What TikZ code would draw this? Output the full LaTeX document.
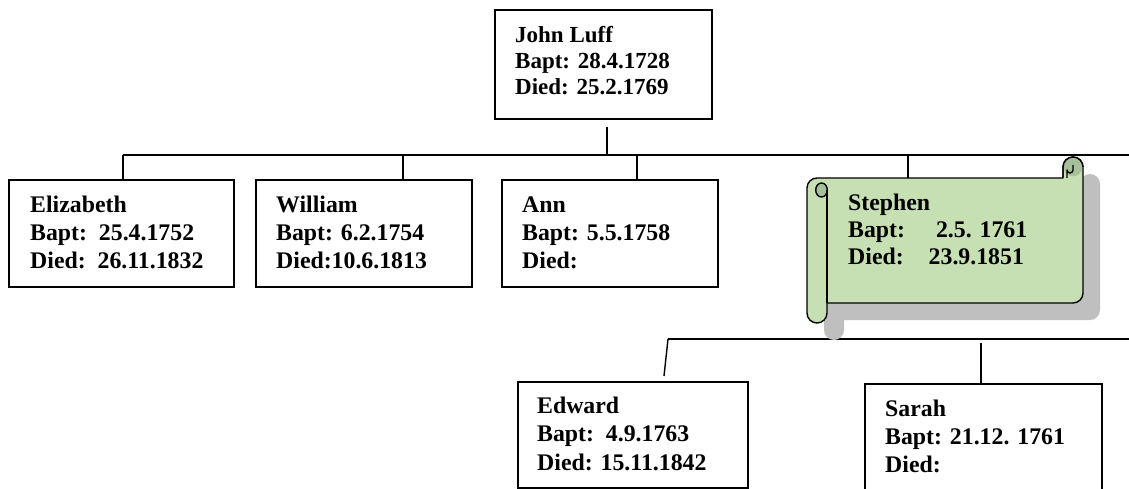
\documentclass[tikz,border=0pt]{standalone}
\usepackage{fontspec}
\setmainfont{Liberation Serif}
\usetikzlibrary{calc}
\definecolor{scrollfill}{RGB}{198,224,180}
\definecolor{scrolldark}{RGB}{166,192,154}
\definecolor{shadowgray}{RGB}{191,191,191}
\newcommand\threelines[3]{\begin{tabular}[t]{@{}l@{}}#1\\#2\\#3\end{tabular}}
\begin{document}
\begin{tikzpicture}[x=1pt,y=-1pt,
  box/.style={draw=black, line width=1.6pt, inner sep=0pt, anchor=north west, fill=white},
  wire/.style={draw=black, line width=1.4pt},
  txt/.style={anchor=base west, inner sep=0pt, font=\bfseries\fontsize{23.8}{28}\selectfont},
  scrollline/.style={draw=black, line width=1.4pt, line join=round}]
\useasboundingbox (0,0) rectangle (1129,489);
\clip (0,0) rectangle (1129,489);

% bus lines
\coordinate (busL) at (123,155);
\coordinate (busR) at (1129,155);
\coordinate (bus2L) at (668,339);
\coordinate (bus2R) at (1129,339);
\draw[wire] (busL) -- (busR);
\draw[wire] (bus2L) -- (bus2R);

% boxes
\node[box, minimum width=217pt, minimum height=109pt] (john) at (494,9) {};
\node[box, minimum width=225pt, minimum height=107pt] (eliz) at (8,179) {};
\node[box, minimum width=216pt, minimum height=107pt] (wil) at (255,179) {};
\node[box, minimum width=216pt, minimum height=107pt] (ann) at (501,179) {};
\node[box, minimum width=230pt, minimum height=106pt] (edw) at (517,381) {};
\node[box, minimum width=237pt, minimum height=125pt] (sarah) at (864,383) {};

% scroll (Stephen)
\def\scrollpath{(807,188) arc[start angle=180,end angle=270,radius=10]
  -- (1063,178) -- (1063,167) arc[start angle=180,end angle=360,radius=10]
  -- (1083,293) arc[start angle=0,end angle=90,radius=10]
  -- (827,303) -- (827,313) arc[start angle=0,end angle=180,radius=10] -- cycle}
\fill[shadowgray, shift={(17,17)}] \scrollpath;
\filldraw[fill=scrollfill, scrollline] \scrollpath;
\fill[scrolldark] (1073,167) circle[radius=9.3];
\draw[scrollline] (1063,178) -- (1063,167) arc[start angle=180,end angle=360,radius=10];
\draw[scrollline] (1067,178) -- (1067,170) arc[start angle=180,end angle=0,radius=3] -- (1073,165);
\filldraw[fill=scrolldark, scrollline] (821.5,190) ellipse[x radius=5.8, y radius=7];
\draw[scrollline] (827,190) -- (827,303);
\coordinate (stephtop) at (908,178);

% texts
\node[txt, font=\bfseries\fontsize{23}{26}\selectfont] (johnT) at (515,43)
  {\threelines{John Luff}{Bapt: 28.4.1728}{Died: 25.2.1769}};
\node[txt] (elizT) at (30,212)
  {\threelines{Elizabeth}{Bapt:\ \ 25.4.1752}{Died:\ \ 26.11.1832}};
\node[txt] (wilT) at (276,212)
  {\threelines{William}{Bapt: 6.2.1754}{Died:10.6.1813}};
\node[txt] (annT) at (522,212)
  {\threelines{Ann}{Bapt: 5.5.1758}{Died:}};
\node[txt, font=\bfseries\fontsize{23.8}{27}\selectfont] (stephT) at (848,211)
  {\threelines{Stephen}{Bapt:\hspace{31pt}2.5. 1761}{Died:\hspace{25pt}23.9.1851}};
\node[txt, font=\bfseries\fontsize{23.8}{28.5}\selectfont] (edwT) at (537,413)
  {\threelines{Edward}{Bapt:\ \ 4.9.1763}{Died: 15.11.1842}};
\node[txt] (sarahT) at (885,416)
  {\threelines{Sarah}{Bapt: 21.12. 1761}{Died:}};

% connectors
\coordinate (jbot) at ($(john.south west)+(113,7)$);
\draw[wire] (jbot) -- (jbot |- busL);
\coordinate (etop) at ($(eliz.north west)+(115,0)$);
\draw[wire] (etop) -- (etop |- busL);
\coordinate (wtop) at ($(wil.north west)+(148,0)$);
\draw[wire] (wtop) -- (wtop |- busL);
\coordinate (atop) at ($(ann.north west)+(136,0)$);
\draw[wire] (atop) -- (atop |- busL);
\draw[wire] (stephtop) -- (stephtop |- busL);
\coordinate (edtop) at ($(edw.north west)+(147,-5)$);
\draw[wire] (bus2L) -- (edtop);
\coordinate (stop2) at ($(sarah.north west)+(117,0)$);
\draw[wire] (stop2) -- ($(stop2 |- bus2L)+(0,4)$);
\end{tikzpicture}
\end{document}
